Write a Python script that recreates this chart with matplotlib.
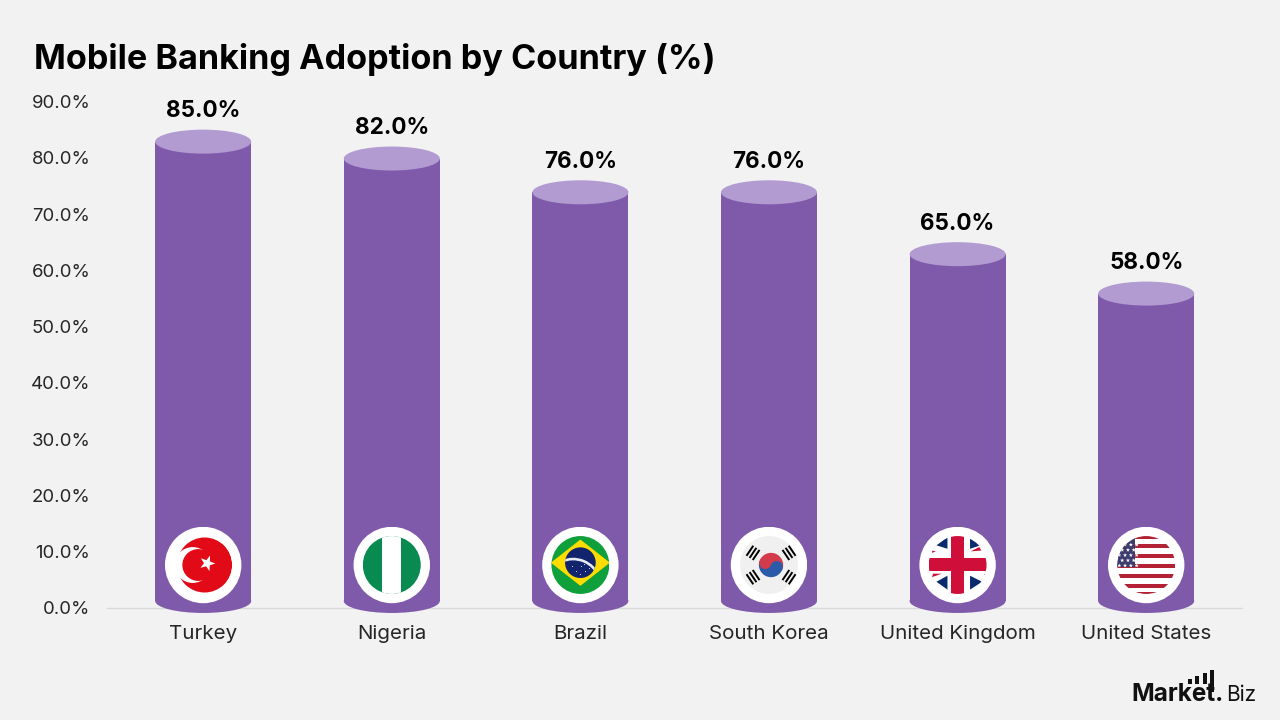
import numpy as np
import matplotlib
matplotlib.use("Agg")
import matplotlib.pyplot as plt
from matplotlib.patches import Circle, Ellipse, Polygon, Rectangle, Wedge

countries = ["Turkey", "Nigeria", "Brazil", "South Korea", "United Kingdom", "United States"]
adoption = [85.0, 82.0, 76.0, 76.0, 65.0, 58.0]
y_ticks = [0, 10, 20, 30, 40, 50, 60, 70, 80, 90]

BG = "#f2f2f2"
BAR = "#7f5aab"
BAR_TOP = "#b29bd1"
FONT = "Inter"

plt.rcParams["font.family"] = [FONT, "DejaVu Sans"]

fig = plt.figure(figsize=(12.8, 7.2), dpi=100, facecolor=BG)
# axes box in pixels: left 107, right 1242, y=0 at 608, y=90 at 101.5
ax = fig.add_axes([107 / 1280, (720 - 608) / 720, 1135 / 1280, 506.5 / 720])
ax.set_facecolor("none")
ax.set_xlim(-0.51, 5.508)
ax.set_ylim(0, 90)

cap_h = 24 / 5.628   # cylinder cap height in y units
bar_w = 96 / 188.6

for i, v in enumerate(adoption):
    ax.add_patch(Rectangle((i - bar_w / 2, 1.25), bar_w, v - cap_h / 2 - 1.25, fc=BAR, ec="none", zorder=2))
    ax.add_patch(Ellipse((i, 1.25), bar_w, cap_h, fc=BAR, ec="none", zorder=2, clip_on=False))
    ax.add_patch(Ellipse((i, v - cap_h / 2), bar_w, cap_h, fc=BAR_TOP, ec="none", zorder=3))
    ax.text(i, v + 3.3, f"{v:.1f}%", ha="center", va="center", fontsize=16.2, fontweight="bold", color="black", zorder=5)

for s in ["top", "right", "left"]:
    ax.spines[s].set_visible(False)
ax.spines["bottom"].set_color("#d9d9d9")
ax.spines["bottom"].set_linewidth(1)
ax.spines["bottom"].set_zorder(1)

ax.set_xticks(range(len(countries)))
ax.set_xticklabels(countries, fontsize=14.8, color="#262626")
ax.set_yticks(y_ticks)
ax.set_yticklabels([f"{t:.1f}%" for t in y_ticks], fontsize=13.4, color="#262626")
ax.tick_params(length=0)
ax.tick_params(axis="x", pad=12.5)
ax.tick_params(axis="y", pad=12)

fig.text(34 / 1280, 1 - 60 / 720, "Mobile Banking Adoption by Country (%)", fontsize=24.6, fontweight="bold",
         color="black", ha="left", va="center")


def star(cx, cy, r, n=5, inner=0.4, rot=90):
    a = np.deg2rad(rot + np.arange(2 * n) * 180 / n)
    rr = np.where(np.arange(2 * n) % 2 == 0, r, r * inner)
    return np.column_stack([cx + rr * np.cos(a), cy + rr * np.sin(a)])


def turkey(a, clip):
    a.add_patch(clip(Circle((0.05, 0), 0.95, fc="#e30a17")))
    a.add_patch(Circle((-0.36, 0), 0.62, fc="white", ec="none"))
    a.add_patch(Circle((-0.17, 0), 0.55, fc="#e30a17", ec="none"))
    a.add_patch(Polygon(star(0.14, 0.06, 0.28, rot=70), fc="white", ec="none", zorder=3))


def nigeria(a, clip):
    a.add_patch(clip(Rectangle((-1, -1), 2, 2, fc="#088a50")))
    a.add_patch(clip(Rectangle((-0.33, -1), 0.66, 2, fc="white")))


def brazil(a, clip):
    a.add_patch(clip(Rectangle((-1, -1), 2, 2, fc="#0fa03c")))
    a.add_patch(clip(Polygon([(-1.02, 0.08), (0, 0.88), (1.02, 0.08), (0, -0.72)], fc="#fedc00")))
    globe = Circle((0, 0.08), 0.53, fc="#12246e", ec="none")
    a.add_patch(globe)
    band = Wedge((-0.25, -0.75), 1.0, 20, 115, width=0.09, fc="#e8edf5", ec="none")
    a.add_patch(band)
    band.set_clip_path(Circle((0, 0.08), 0.53, transform=a.transData))
    dots = [(-0.3, -0.05), (-0.15, -0.2), (0.02, -0.05), (0.15, -0.22), (0.3, -0.1), (-0.02, -0.3), (0.12, 0.02)]
    a.scatter(*zip(*dots), s=0.5, color="#cfd8ee", linewidths=0)


def korea(a, clip):
    a.add_patch(clip(Rectangle((-1.3, -1.3), 2.6, 2.6, fc="#f0f0f0")))
    cx0, r, tilt = 0.07, 0.42, -20
    dx, dy = r / 2 * np.cos(np.deg2rad(tilt)), r / 2 * np.sin(np.deg2rad(tilt))
    a.add_patch(Wedge((cx0, 0), r, tilt, tilt + 180, fc="#d33a4a", ec="none"))
    a.add_patch(Wedge((cx0, 0), r, tilt + 180, tilt + 360, fc="#2b5aa8", ec="none"))
    a.add_patch(Circle((cx0 - dx, -dy), r / 2, fc="#d33a4a", ec="none"))
    a.add_patch(Circle((cx0 + dx, dy), r / 2, fc="#2b5aa8", ec="none"))
    # four trigrams around the taegeuk
    for ang in [34, 146, 214, 326]:
        t = np.deg2rad(ang)
        for d in [0.62, 0.75, 0.88]:
            cx, cy = cx0 + d * np.cos(t), d * np.sin(t)
            px, py = -np.sin(t) * 0.21, np.cos(t) * 0.21
            a.plot([cx - px, cx + px], [cy - py, cy + py], color="black", lw=1.4, solid_capstyle="butt")


def uk(a, clip):
    a.add_patch(clip(Rectangle((-1, -1), 2, 2, fc="white")))
    navy = "#0a2a6e"
    red = "#cf0f3a"
    tri = [[(-0.35, 0.96), (-0.35, 0.56), (-0.73, 0.68)], [(0.43, 0.96), (0.43, 0.56), (0.79, 0.68)],
           [(-0.35, -0.37), (-0.35, -0.85), (-0.73, -0.58)], [(0.43, -0.37), (0.43, -0.85), (0.85, -0.58)]]
    for t in tri:
        a.add_patch(clip(Polygon(t, fc=navy)))
    for t in [[(0.45, 0.47), (0.75, 0.62), (0.82, 0.5)], [(-0.88, 0.5), (-0.75, 0.47), (-0.88, 0.42)],
              [(-0.88, -0.42), (-0.55, -0.3), (-0.85, -0.3)], [(0.9, -0.3), (1.0, -0.3), (1.0, -0.4)]]:
        a.add_patch(clip(Polygon(t, fc=red)))
    a.add_patch(clip(Rectangle((-0.22, -1), 0.44, 2, fc=red)))
    a.add_patch(clip(Rectangle((-1, -0.2), 2, 0.44, fc=red)))


def usa(a, clip):
    a.add_patch(clip(Rectangle((-1, -1), 2, 2, fc="white")))
    for yc in [0.96, 0.66, 0.32, -0.03, -0.38, -0.72, -1.02]:
        a.add_patch(clip(Rectangle((-1, yc - 0.075), 2, 0.15, fc="#b22234")))
    a.add_patch(clip(Rectangle((-1, -0.07), 0.62, 1.07, fc="#3c3b6e")))
    for row in range(5):
        for col in range(4):
            cx = -0.93 + col * 0.2 + (row % 2) * 0.1
            cy = 0.7 - row * 0.18
            a.add_patch(clip(Polygon(star(cx, cy, 0.075), fc="white")))


flags = [turkey, nigeria, brazil, korea, uk, usa]
flag_y = 7.64
icon_w = 77 / 188.6
icon_h = 77 / 5.628

# each badge gets its own inset so the flag geometry can stay in unit coordinates
for i, draw in enumerate(flags):
    fa = ax.inset_axes([i - icon_w / 2, flag_y - icon_h / 2, icon_w, icon_h], transform=ax.transData, zorder=4)
    fa.set_xlim(-1.33, 1.33)
    fa.set_ylim(-1.33, 1.33)
    fa.axis("off")
    fa.add_patch(Circle((0, 0), 1.32, fc="white", ec="none"))
    disc = Circle((0, 0), 1, transform=fa.transData)

    def clip(p, disc=disc):
        p.set_edgecolor("none")
        p.set_clip_path(disc)
        return p

    draw(fa, clip)

# logo in the lower right corner
fig.text(1131 / 1280, 1 - 701 / 720, "Market.", fontsize=17.5, fontweight="bold", color="#111111", ha="left", va="baseline")
fig.text(1226 / 1280, 1 - 701 / 720, "Biz", fontsize=15, color="#111111", ha="left", va="baseline")
for x0, top, bot in [(1188, 679, 684), (1195, 676, 684), (1203, 673, 684), (1210, 670, 692)]:
    fig.add_artist(Rectangle((x0 / 1280, 1 - bot / 720), 4 / 1280, (bot - top) / 720, transform=fig.transFigure,
                             fc="#111111", ec="none"))

plt.savefig("out.png", dpi=100, facecolor=BG)
plt.close()
